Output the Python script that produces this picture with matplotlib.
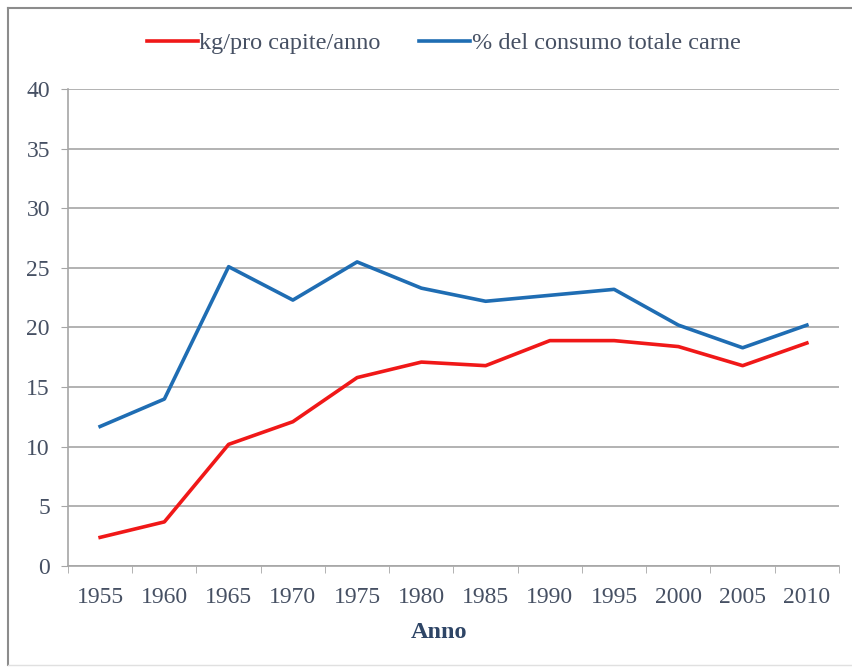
import numpy as np
import matplotlib
matplotlib.use("Agg")
import matplotlib.pyplot as plt
from matplotlib.lines import Line2D

years = ["1955", "1960", "1965", "1970", "1975", "1980", "1985",
         "1990", "1995", "2000", "2005", "2010"]
kg_pro_capite = [2.4, 3.7, 10.2, 12.1, 15.8, 17.1, 16.8, 18.9, 18.9, 18.4, 16.8, 18.7]
perc_consumo = [11.7, 14.0, 25.1, 22.3, 25.5, 23.3, 22.2, 22.7, 23.2, 20.2, 18.3, 20.2]

plt.rcParams['font.family'] = ['Liberation Serif', 'DejaVu Serif']
text_col = '#465063'
grid_col = '#a6a6a6'

fig = plt.figure(figsize=(8.53, 6.68), dpi=100)
ax = fig.add_axes([68/853, 1 - 566/668, (839 - 68)/853, (566 - 89)/668])

x = np.arange(len(years))
ax.plot(x, kg_pro_capite, color='#f01818', lw=2.6, solid_joinstyle='round',
        label='kg/pro capite/anno')
ax.plot(x, perc_consumo, color='#1f6db3', lw=2.6, solid_joinstyle='round',
        label='% del consumo totale carne')

ax.set_xlim(-0.5, len(years) - 0.5)
ax.set_ylim(0, 40)
ax.set_yticks(range(0, 41, 5))
ax.yaxis.grid(True, color=grid_col, lw=1.2)
ax.set_axisbelow(True)

# category labels in the middle, tick marks between categories
ax.set_xticks(x)
ax.set_xticklabels(years)
ax.set_xticks(np.arange(-0.5, len(years), 1), minor=True)
ax.tick_params(axis='x', which='major', length=0, pad=15, labelsize=17, labelcolor=text_col)
ax.tick_params(axis='x', which='minor', length=5, color=grid_col, direction='out')
ax.tick_params(axis='y', length=5, color=grid_col, labelsize=17, labelcolor=text_col, pad=8)

for s in ['top', 'right']:
    ax.spines[s].set_visible(False)
ax.spines['left'].set_color(grid_col)
ax.spines['bottom'].set_color(grid_col)
ax.spines['left'].set_linewidth(1.2)
ax.spines['bottom'].set_linewidth(1.2)

ax.set_xlabel('Anno', fontsize=17.5, fontweight='bold', color='#2e4566')
ax.xaxis.set_label_coords((439 - 68) / 771, -(633 - 566) / 477)
ax.xaxis.label.set_va('center')

fig.legend(loc='center', bbox_to_anchor=(0.52, 1 - 43/668), ncol=2, frameon=False,
           fontsize=17.5, handlelength=2.1, handletextpad=0.05, columnspacing=1.6,
           labelcolor=text_col)

# outer frame of the picture
fig.add_artist(Line2D([8/853, 1], [1 - 8/668, 1 - 8/668], color='#8c8c8c', lw=1.5,
                      transform=fig.transFigure))
fig.add_artist(Line2D([8/853, 8/853], [1 - 665/668, 1 - 8/668], color='#8c8c8c', lw=1.5,
                      transform=fig.transFigure))
fig.add_artist(Line2D([8/853, 1], [1 - 665/668, 1 - 665/668], color='#e0e0e0', lw=1,
                      transform=fig.transFigure))

fig.savefig('out.png', dpi=100)
